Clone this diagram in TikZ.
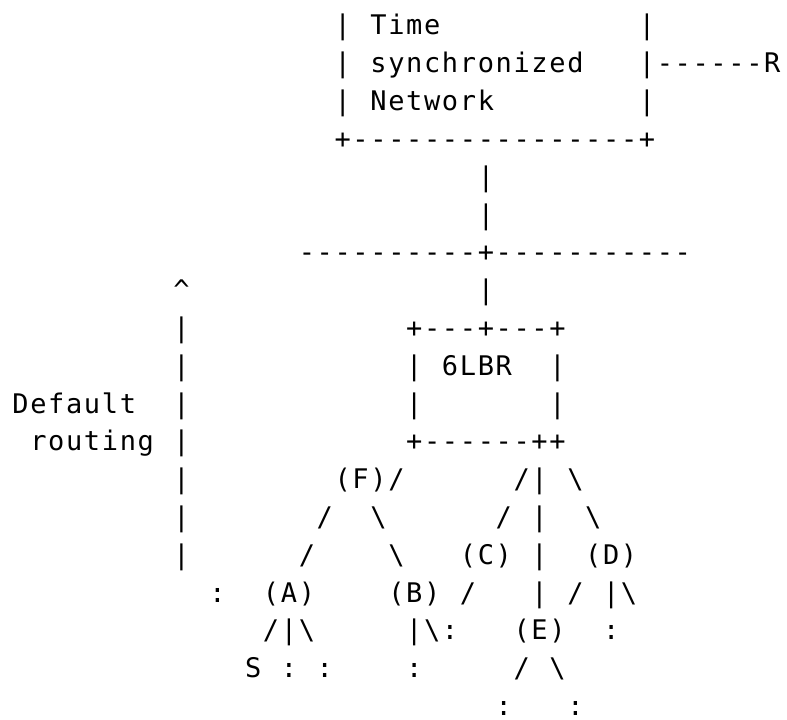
\documentclass[tikz,border=0pt]{standalone}
\usepackage{fontspec}
\newfontfamily\asciifont[Ligatures=TeXOff,LetterSpace=6.1]{DejaVu Sans Mono}
\usepackage{tikz}

\begin{document}
\begin{tikzpicture}[x=8.95pt, y=-18.9pt]
    \tikzstyle{ch} = [anchor=base west, inner sep=0pt, outer sep=0pt, xshift=0.41pt, font=\asciifont\fontsize{13.5}{15}\selectfont]
    \useasboundingbox (-0.645,-0.926) rectangle (43.32,18.095);

    % time synchronized network box
    \node [ch] (tsnL0) at (18,0) {|};
    \node [ch] (tsnA) at (20,0) {Time};
    \node [ch] (tsnR0) at (35,0) {|};
    \node [ch] (tsnL1) at (18,1) {|};
    \node [ch] (tsnB) at (20,1) {synchronized};
    \node [ch] (tsnR1) at (35,1) {|------R};
    \node [ch] (tsnL2) at (18,2) {|};
    \node [ch] (tsnC) at (20,2) {Network};
    \node [ch] (tsnR2) at (35,2) {|};
    \node [ch] (tsnBot) at (18,3) {+----------------+};

    % backbone
    \node [ch] (up1) at (26,4) {|};
    \node [ch] (up2) at (26,5) {|};
    \node [ch] (bb) at (16,6) {----------+-----------};
    \node [ch] (up3) at (26,7) {|};

    % default routing arrow
    \node [ch] (arrTip) at (9,7) {\textasciicircum};
    \foreach \r in {8,...,14}
        \node [ch] (arr\r) at (9,\r) {|};
    \node [ch] (lblA) at (0,10) {Default};
    \node [ch] (lblB) at (1,11) {routing};

    % 6LBR box
    \node [ch] (brTop) at (22,8) {+---+---+};
    \node [ch] (brL1) at (22,9) {|};
    \node [ch] (br) at (24,9) {6LBR};
    \node [ch] (brR1) at (30,9) {|};
    \node [ch] (brL2) at (22,10) {|};
    \node [ch] (brR2) at (30,10) {|};
    \node [ch] (brBot) at (22,11) {+------++};

    % tree
    \node [ch] (nF) at (18,12) {(F)/};
    \node [ch] (e12a) at (28,12) {/|};
    \node [ch] (e12b) at (31,12) {\textbackslash};
    \node [ch] (e13a) at (17,13) {/};
    \node [ch] (e13b) at (20,13) {\textbackslash};
    \node [ch] (e13c) at (27,13) {/};
    \node [ch] (e13d) at (29,13) {|};
    \node [ch] (e13e) at (32,13) {\textbackslash};
    \node [ch] (e14a) at (16,14) {/};
    \node [ch] (e14b) at (21,14) {\textbackslash};
    \node [ch] (nC) at (25,14) {(C)};
    \node [ch] (e14c) at (29,14) {|};
    \node [ch] (nD) at (32,14) {(D)};
    \node [ch] (d15a) at (11,15) {:};
    \node [ch] (nA) at (14,15) {(A)};
    \node [ch] (nB) at (21,15) {(B)};
    \node [ch] (e15a) at (25,15) {/};
    \node [ch] (e15b) at (29,15) {|};
    \node [ch] (e15c) at (31,15) {/};
    \node [ch] (e15d) at (33,15) {|\textbackslash};
    \node [ch] (e16a) at (14,16) {/|\textbackslash};
    \node [ch] (e16b) at (22,16) {|\textbackslash:};
    \node [ch] (nE) at (28,16) {(E)};
    \node [ch] (d16a) at (33,16) {:};
    \node [ch] (nS) at (13,17) {S};
    \node [ch] (d17a) at (15,17) {:};
    \node [ch] (d17b) at (17,17) {:};
    \node [ch] (d17c) at (22,17) {:};
    \node [ch] (e17a) at (28,17) {/};
    \node [ch] (e17b) at (30,17) {\textbackslash};
    \node [ch] (d18a) at (27,18) {:};
    \node [ch] (d18b) at (31,18) {:};
\end{tikzpicture}
\end{document}
